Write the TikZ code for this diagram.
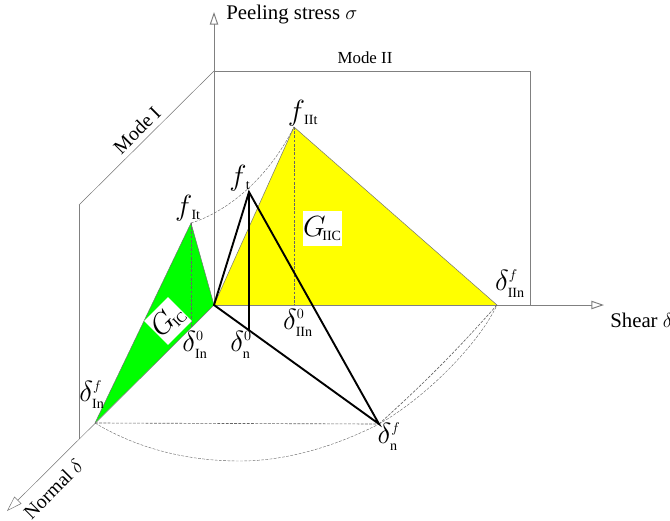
\documentclass[tikz,border=0pt]{standalone}
\usepackage{fontspec}
\setmainfont{Liberation Serif}
\usetikzlibrary{arrows.meta}
\definecolor{lawgreen}{RGB}{0,255,0}
\definecolor{lawyellow}{RGB}{255,255,0}
\newcommand{\dlab}[2]{$\delta^{\scriptscriptstyle #1}_{\scriptscriptstyle\mathrm{#2}}$}
\newcommand{\flab}[1]{$f_{\scriptscriptstyle\,\mathrm{#1}}$}
\newcommand{\glab}[1]{$G_{\!\scriptscriptstyle\mathrm{#1}}$}
\tikzset{
  axisline/.style={draw=black!50,line width=.7pt},
  axisarrow/.style={axisline,-{Triangle[open,length=9pt,width=6pt]}},
  thinedge/.style={draw=black!55,line width=.35pt},
  dashedge/.style={draw=black!60,line width=.45pt,dash pattern=on 2pt off 1pt},
  heavyedge/.style={draw=black,line width=1.35pt},
  lab/.style={inner sep=0pt,font=\fontsize{14.8}{17}\selectfont},
  mathlab/.style={inner sep=0pt,font=\fontsize{20}{22}\selectfont},
  whitebox/.style={fill=white,inner sep=0pt,minimum width=#1},
}
\begin{document}
\begin{tikzpicture}[x=.025cm,y=-.025cm]
\useasboundingbox (0,0) rectangle (670,520);
% key points of the cohesive law
\coordinate (O) at (214,305);
\coordinate (sigtop) at (214,12);
\coordinate (cornerII) at (214,71);
\coordinate (shearend) at (604,305);
\coordinate (normalend) at (7,511);
\coordinate (rectTR) at (530,71);
\coordinate (rectBR) at (530,305);
\coordinate (rectBL) at (79,439);
\coordinate (rectTL) at (79,205);
\coordinate (fI) at (191,223);
\coordinate (fII) at (294,127);
\coordinate (ft) at (249,192);
\coordinate (dIf) at (95,423);
\coordinate (dIIf) at (497,305);
\coordinate (dnf) at (379,424);
\coordinate (dI0) at (191,327);
\coordinate (dII0) at (294,305);
\coordinate (dn0) at (249,330);
% shaded triangles
\fill[lawgreen] (O)--(fI)--(dIf)--cycle;
\fill[lawyellow] (O)--(fII)--(dIIf)--cycle;
% frame and axes
\draw[axisline] (cornerII)--(rectTR)--(rectBR);
\draw[thinedge] (cornerII)--(rectTL);
\draw[axisline] (rectTL)--(rectBL);
\draw[axisarrow] (O)--(sigtop);
\draw[axisarrow] (O)--(shearend);
\draw[thinedge,-{Triangle[open,length=11pt,width=7pt]}] (O)--(normalend);
% triangle edges
\draw[thinedge] (O)--(fI)--(dIf);
\draw[thinedge] (O)--(fII)--(dIIf);
\draw[dashedge] (fI)--(dI0);
\draw[dashedge] (fII)--(dII0);
\draw[dashedge] (dIf)--(dnf);
\draw[dashedge] (dnf) to[bend right=3] (dIIf);
% envelope curves
\draw[dashedge,line width=.3pt] (fI) .. controls (215,216) and (262,190) .. (fII);
\draw[dashedge,line width=.3pt] (dIf) .. controls (140,450) and (190,461) .. (240,461) .. controls (290,461) and (340,444) .. (dnf);
\draw[dashedge,line width=.3pt] (dnf) .. controls (425,398) and (478,345) .. (dIIf);
% mixed mode triangle
\draw[heavyedge,line join=miter] (O)--(ft)--(dnf)--cycle;
\draw[heavyedge] (ft)--(dn0);
% labels
\node[whitebox=24,minimum height=24,rotate=45,mathlab] (gic) at (168,321) {\glab{IC}};
\node[whitebox=28,minimum height=25,mathlab] (giic) at (322.5,228.5) {\glab{IIC}};
\node[lab,anchor=west] (peel) at (226,15) {Peeling stress $\sigma$};
\node[lab,font=\fontsize{12}{14}\selectfont] (modeII) at (365,58) {Mode II};
\node[lab,font=\fontsize{14}{16}\selectfont,rotate=45] (modeI) at (137,130) {Mode I};
\node[lab,anchor=west] (shear) at (610,320) {Shear $\delta$};
\node[lab,font=\fontsize{14}{16}\selectfont,rotate=45] (normal) at (53,489) {Normal $\delta$};
\node[mathlab] (lfI) at (188,208) {\flab{It}};
\node[mathlab] (lfII) at (303,113) {\flab{IIt}};
\node[mathlab] (lft) at (240,178) {\flab{t}};
\node[mathlab] (ldIf) at (92,395) {\dlab{f}{In}};
\node[mathlab] (ldI0) at (195,345) {\dlab{0}{In}};
\node[mathlab] (ldn0) at (241,345) {\dlab{0}{n}};
\node[mathlab] (ldII0) at (298,323) {\dlab{0}{IIn}};
\node[mathlab] (ldIIf) at (510,284) {\dlab{f}{IIn}};
\node[mathlab] (ldnf) at (389,437) {\dlab{f}{n}};
\end{tikzpicture}
\end{document}
